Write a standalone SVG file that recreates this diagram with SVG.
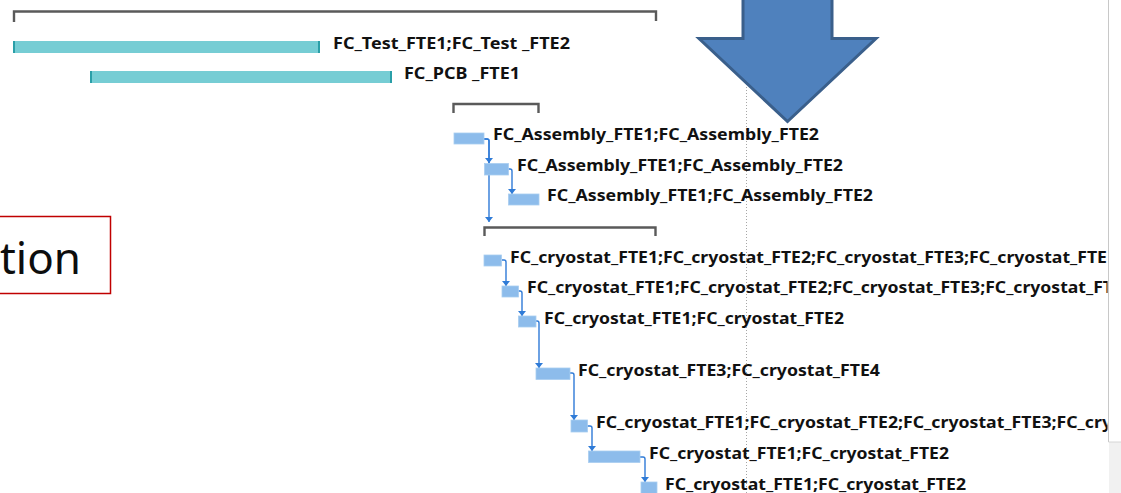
<svg xmlns="http://www.w3.org/2000/svg" width="1121" height="493" viewBox="0 0 1121 493">
  <style>
    .lbl { font-family: "Noto Sans", "Open Sans", "Liberation Sans", sans-serif; font-weight: bold; font-size: 16px; fill: #111111; }
    .teal { fill: #76CDD4; }
    .cap { fill: #2A9FA8; }
    .task { fill: #8DBCEB; stroke: #A9CDF0; stroke-width: 0.8; }
    .summary { fill: none; stroke: #5A5A5A; stroke-width: 2.4; stroke-linejoin: miter; }
    .link { fill: none; stroke: #2F7BD7; stroke-width: 1.4; marker-end: url(#head); }
  </style>
  <defs>
    <marker id="head" markerUnits="userSpaceOnUse" markerWidth="10" markerHeight="10" refX="9" refY="5" orient="auto">
      <path d="M4,1 L9,5 L4,9 Z" fill="#2F7BD7"/>
    </marker>
    <clipPath id="chart">
      <rect x="0" y="0" width="1107.5" height="493"/>
    </clipPath>
  </defs>

  <rect width="1121" height="493" fill="#FFFFFF"/>

  <!-- right-hand pane edge -->
  <line x1="1108.5" y1="0" x2="1108.5" y2="442" stroke="#C8C8C8" stroke-width="1"/>
  <rect x="1109" y="442" width="12" height="51" fill="#F1F1F1"/>
  <line x1="1108.5" y1="442" x2="1121" y2="442" stroke="#D6D6D6" stroke-width="1"/>

  <!-- status date gridline -->
  <line x1="746.5" y1="0" x2="746.5" y2="493" stroke="#A6A6A6" stroke-width="1" stroke-dasharray="1 2"/>

  <!-- callout box -->
  <g id="callout">
    <rect x="-5" y="216.5" width="115.5" height="77" fill="#FFFFFF" stroke="#C00000" stroke-width="1.5"/>
    <text x="81" y="274" text-anchor="end" font-family="'Noto Sans', 'Open Sans', sans-serif" font-size="44" fill="#0D0D0D">tion</text>
  </g>

  <!-- summary brackets -->
  <g id="summary-test">
    <path class="summary" d="M14,22 V11.5 H656 V21"/>
  </g>
  <g id="summary-assembly">
    <path class="summary" d="M453.5,113 V104 H538.5 V113"/>
  </g>
  <g id="summary-cryostat">
    <path class="summary" d="M484.5,236 V227.5 H655.5 V236"/>
  </g>

  <!-- connectors -->
  <g id="connectors">
    <path class="link" d="M484,139 H487 Q489,139 489,141 V163"/>
    <path class="link" d="M484,139 H487 Q489,139 489,141 V222"/>
    <path class="link" d="M508,169 H510 Q512,169 512,171 V194"/>
    <path class="link" d="M502,260 H504 Q506,260 506,262 V286"/>
    <path class="link" d="M518,291 H520 Q522,291 522,293 V316"/>
    <path class="link" d="M536,321 H537 Q539,321 539,323 V368"/>
    <path class="link" d="M570,373 H572 Q574,373 574,375 V420"/>
    <path class="link" d="M587,426 H590 Q592,426 592,428 V451"/>
    <path class="link" d="M640,457 H643 Q645,457 645,459 V482"/>
  </g>

  <!-- tasks -->
  <g clip-path="url(#chart)">
    <g id="task-test">
      <rect class="teal" x="13" y="41" width="307" height="12"/>
      <rect class="cap" x="13" y="41" width="2" height="12"/>
      <rect class="cap" x="318" y="41" width="2" height="12"/>
      <text class="lbl" x="333" y="48.5" textLength="237" lengthAdjust="spacingAndGlyphs">FC_Test_FTE1;FC_Test _FTE2</text>
    </g>
    <g id="task-pcb">
      <rect class="teal" x="90" y="71" width="302" height="12"/>
      <rect class="cap" x="90" y="71" width="2" height="12"/>
      <rect class="cap" x="390" y="71" width="2" height="12"/>
      <text class="lbl" x="404" y="79" textLength="116" lengthAdjust="spacingAndGlyphs">FC_PCB _FTE1</text>
    </g>
    <g id="task-assembly-1">
      <rect class="task" x="454" y="133" width="30" height="11"/>
      <text class="lbl" x="493" y="140" textLength="326" lengthAdjust="spacingAndGlyphs">FC_Assembly_FTE1;FC_Assembly_FTE2</text>
    </g>
    <g id="task-assembly-2">
      <rect class="task" x="484.5" y="163.5" width="24" height="11.5"/>
      <text class="lbl" x="517" y="170.5" textLength="326" lengthAdjust="spacingAndGlyphs">FC_Assembly_FTE1;FC_Assembly_FTE2</text>
    </g>
    <g id="task-assembly-3">
      <rect class="task" x="508.5" y="194" width="30.5" height="11"/>
      <text class="lbl" x="547" y="201" textLength="326" lengthAdjust="spacingAndGlyphs">FC_Assembly_FTE1;FC_Assembly_FTE2</text>
    </g>
    <g id="task-cryostat-1">
      <rect class="task" x="484" y="255" width="17.5" height="11"/>
      <text class="lbl" x="510" y="262.5" textLength="597" lengthAdjust="spacingAndGlyphs">FC_cryostat_FTE1;FC_cryostat_FTE2;FC_cryostat_FTE3;FC_cryostat_FTE</text>
    </g>
    <g id="task-cryostat-2">
      <rect class="task" x="502" y="286" width="16.5" height="11"/>
      <text class="lbl" x="527" y="293" textLength="586" lengthAdjust="spacingAndGlyphs">FC_cryostat_FTE1;FC_cryostat_FTE2;FC_cryostat_FTE3;FC_cryostat_FT</text>
    </g>
    <g id="task-cryostat-3">
      <rect class="task" x="518.5" y="316" width="17.5" height="11"/>
      <text class="lbl" x="544" y="323.5" textLength="300" lengthAdjust="spacingAndGlyphs">FC_cryostat_FTE1;FC_cryostat_FTE2</text>
    </g>
    <g id="task-cryostat-4">
      <rect class="task" x="536" y="368" width="34" height="11.5"/>
      <text class="lbl" x="578" y="375.5" textLength="302" lengthAdjust="spacingAndGlyphs">FC_cryostat_FTE3;FC_cryostat_FTE4</text>
    </g>
    <g id="task-cryostat-5">
      <rect class="task" x="571" y="420" width="16.5" height="12"/>
      <text class="lbl" x="596" y="427.5" textLength="516" lengthAdjust="spacingAndGlyphs">FC_cryostat_FTE1;FC_cryostat_FTE2;FC_cryostat_FTE3;FC_cry</text>
    </g>
    <g id="task-cryostat-6">
      <rect class="task" x="588.5" y="451" width="51.5" height="11.5"/>
      <text class="lbl" x="649" y="458.5" textLength="300" lengthAdjust="spacingAndGlyphs">FC_cryostat_FTE1;FC_cryostat_FTE2</text>
    </g>
    <g id="task-cryostat-7">
      <rect class="task" x="641" y="482" width="16" height="12"/>
      <text class="lbl" x="665" y="489.5" textLength="301" lengthAdjust="spacingAndGlyphs">FC_cryostat_FTE1;FC_cryostat_FTE2</text>
    </g>
  </g>

  <!-- block arrow -->
  <g id="down-arrow">
    <polygon points="743,-5 832,-5 832,38.5 876,38.5 787.5,121.5 699,38.5 743,38.5" fill="#4F81BD" stroke="#3A5F8B" stroke-width="3" stroke-linejoin="miter"/>
  </g>
</svg>
